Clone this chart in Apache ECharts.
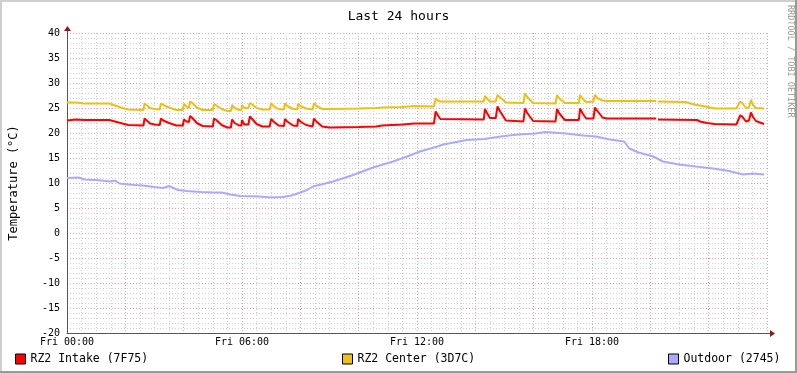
<!DOCTYPE html>
<html>
<head>
<meta charset="utf-8">
<script src="https://cdn.jsdelivr.net/npm/echarts@6/dist/echarts.min.js"></script>
<style>
html,body{margin:0;padding:0;background:#fff;}
#c{width:797px;height:373px;}
</style>
</head>
<body>
<div id="c"></div>
<script>
// ---- data (hours since Fri 00:00, temperature in °C) ----
var xTickLabels = ['Fri 00:00', 'Fri 06:00', 'Fri 12:00', 'Fri 18:00'];
var seriesNames = ['RZ2 Intake (7F75)', 'RZ2 Center (3D7C)', 'Outdoor (2745)'];

var intakeTimes = [0,0.3,0.6,1.45,1.9,2.1,2.62,2.66,2.72,2.85,3.0,3.18,3.22,3.3,3.5,3.75,3.97,4.01,4.1,4.18,4.22,4.3,4.45,4.65,5.0,5.04,5.12,5.3,5.5,5.62,5.66,5.75,5.9,5.98,6.0,6.08,6.22,6.27,6.35,6.5,6.7,6.95,7.0,7.08,7.25,7.44,7.47,7.55,7.75,7.9,7.92,8.0,8.2,8.42,8.47,8.55,8.75,9.0,10.0,10.6,10.8,11.5,11.9,12.58,12.64,12.72,12.8,14.29,14.33,14.4,14.5,14.7,14.76,14.85,15.05,15.65,15.7,15.78,15.98,16.75,16.8,16.88,17.07,17.55,17.59,17.67,17.8,18.05,18.1,18.2,18.36,18.5,20.2,20.23,20.26,21.6,21.7,21.95,22.2,22.95,23.08,23.15,23.28,23.38,23.45,23.52,23.62,23.9];
var intakeValues = [22.5,22.7,22.6,22.6,21.9,21.6,21.5,22.9,22.7,21.9,21.7,21.6,22.9,22.5,22.0,21.5,21.5,22.7,22.3,22.2,23.4,23.0,22.0,21.4,21.3,22.9,22.6,21.6,21.1,21.1,22.7,22.0,21.5,21.5,22.6,21.7,21.7,23.3,22.8,21.8,21.3,21.3,22.8,22.3,21.5,21.4,22.8,22.3,21.5,21.4,22.8,22.3,21.6,21.3,22.9,22.3,21.3,21.1,21.2,21.3,21.5,21.7,21.9,21.9,24.3,23.5,22.8,22.7,24.8,24.0,23.0,23.0,25.3,24.3,22.5,22.3,24.9,24.0,22.4,22.3,24.8,23.9,22.6,22.6,24.9,24.0,22.9,22.9,25.1,24.3,23.1,22.9,22.9,null,22.7,22.6,22.3,22.0,21.8,21.7,23.5,23.3,22.3,22.5,24.1,23.2,22.4,21.8];

var centerTimes = [0,0.3,0.6,1.45,1.9,2.1,2.62,2.66,2.72,2.85,3.0,3.18,3.22,3.3,3.5,3.75,3.97,4.01,4.1,4.18,4.22,4.3,4.45,4.65,5.0,5.04,5.12,5.3,5.5,5.62,5.66,5.75,5.9,5.98,6.0,6.08,6.22,6.27,6.35,6.5,6.7,6.95,7.0,7.08,7.25,7.44,7.47,7.55,7.75,7.9,7.92,8.0,8.2,8.42,8.47,8.55,8.75,9.0,10.0,10.6,10.8,11.5,11.9,12.58,12.64,12.72,12.8,14.29,14.33,14.4,14.5,14.7,14.76,14.85,15.05,15.65,15.7,15.78,15.98,16.75,16.8,16.88,17.07,17.55,17.59,17.67,17.8,18.05,18.1,18.2,18.36,18.5,20.2,20.23,20.26,21.2,21.5,21.9,22.2,22.95,23.08,23.15,23.28,23.38,23.45,23.52,23.62,23.9];
var centerValues = [26.1,26.1,25.9,25.9,25.0,24.7,24.6,25.9,25.6,25.0,24.8,24.7,25.9,25.6,25.1,24.6,24.6,25.8,25.3,25.0,26.3,26.0,25.1,24.6,24.6,25.8,25.5,24.8,24.4,24.4,25.6,25.0,24.6,24.6,25.6,25.0,25.0,26.0,25.7,25.0,24.7,24.7,25.9,25.4,24.8,24.7,25.9,25.4,24.8,24.7,25.9,25.4,24.9,24.7,26.0,25.4,24.8,24.8,24.9,25.0,25.1,25.2,25.4,25.3,26.9,26.5,26.3,26.3,27.4,26.9,26.3,26.3,27.6,27.1,26.1,26.0,27.9,27.2,26.0,25.9,27.6,26.9,26.0,26.0,27.6,26.9,26.2,26.3,27.6,26.9,26.5,26.4,26.4,null,26.3,26.2,25.7,25.3,24.9,24.9,26.3,26.0,25.0,25.1,26.6,25.6,25.0,24.9];

var outdoorTimes = [0,0.4,0.6,1.0,1.5,1.65,1.8,2.3,2.6,3.0,3.3,3.5,3.8,4.1,4.6,5.0,5.3,5.6,5.93,6.6,7.0,7.4,7.7,8.0,8.23,8.43,8.78,9.12,9.81,10.49,11.18,11.66,12.1,12.7,12.9,13.7,14.3,14.88,15.46,16.05,16.4,17.1,17.7,18.14,18.6,19.1,19.28,19.6,20.1,20.43,20.98,21.56,22.15,22.7,23.18,23.52,23.9];
var outdoorValues = [11.0,11.1,10.7,10.6,10.3,10.5,9.9,9.6,9.5,9.2,9.0,9.4,8.6,8.4,8.2,8.1,8.1,7.7,7.4,7.3,7.1,7.2,7.5,8.1,8.6,9.3,9.8,10.3,11.6,13.1,14.3,15.3,16.3,17.3,17.7,18.6,18.8,19.3,19.7,19.9,20.2,19.9,19.5,19.3,18.7,18.3,16.9,16.1,15.3,14.3,13.7,13.3,12.9,12.4,11.7,11.9,11.7];

function pairs(t, v) { return t.map(function (x, i) { return [x, v[i]]; }); }

var colors = ['#FF0000', '#EAC117', '#AAAAFF'];
var FONT = 'DejaVu Sans Mono';

var chart = echarts.init(document.getElementById('c'), null, {renderer: 'canvas'});

function legendAt(left, name) {
  return {
    left: left, top: 353, orient: 'horizontal',
    data: [{name: name, icon: 'rect'}],
    itemWidth: 10, itemHeight: 10, itemGap: 5,
    itemStyle: {borderColor: '#000', borderWidth: 1},
    textStyle: {fontFamily: FONT, fontSize: 11.5, color: '#000', padding: [0, 0, 0, 0]},
    selectedMode: false, padding: 0
  };
}

var option = {
  animation: false,
  backgroundColor: '#ffffff',
  color: colors,
  title: {
    text: 'Last 24 hours', left: 'center', top: 5,
    textStyle: {fontFamily: FONT, fontSize: 13, fontWeight: 'normal', color: '#000'}
  },
  legend: [legendAt(15, seriesNames[0]), legendAt(342, seriesNames[1]), legendAt(668, seriesNames[2])],
  grid: {left: 67, right: 30, top: 33, bottom: 40, containLabel: false, outerBoundsMode: 'none'},
  xAxis: [{
    type: 'value', min: 0, max: 24, interval: 6,
    axisLine: {show: true, onZero: false, lineStyle: {color: '#555', width: 1}},
    axisTick: {show: false},
    axisLabel: {
      fontFamily: FONT, fontSize: 10, color: '#000', margin: 4,
      formatter: function (v) { var i = Math.round(v / 6); return (v < 24 && xTickLabels[i]) ? xTickLabels[i] : ''; }
    },
    splitLine: {show: false}
  }, {
    type: 'value', min: 0, max: 24, interval: 2, position: 'bottom',
    axisLine: {show: false, onZero: false}, axisTick: {show: false}, axisLabel: {show: false},
    splitLine: {show: true, lineStyle: {color: '#E8A0A0', type: [1, 2], width: 1}},
    minorTick: {show: false, splitNumber: 4},
    minorSplitLine: {show: true, lineStyle: {color: '#CFCFCF', type: [1, 2], width: 1}}
  }],
  yAxis: {
    type: 'value', min: -20, max: 40, interval: 5,
    name: 'Temperature (°C)', nameLocation: 'middle', nameGap: 47, nameRotate: 90,
    nameTextStyle: {fontFamily: FONT, fontSize: 12, color: '#000'},
    axisLine: {show: true, onZero: false, lineStyle: {color: '#555', width: 1}},
    axisTick: {show: false},
    axisLabel: {fontFamily: FONT, fontSize: 10, color: '#000', margin: 7},
    splitLine: {show: true, lineStyle: {color: '#E8A0A0', type: [1, 2], width: 1}},
    minorTick: {show: false, splitNumber: 5},
    minorSplitLine: {show: true, lineStyle: {color: '#CFCFCF', type: [1, 2], width: 1}}
  },
  series: [
    {name: seriesNames[0], type: 'line', data: pairs(intakeTimes, intakeValues), showSymbol: false, connectNulls: false, lineStyle: {width: 2, color: colors[0]}, itemStyle: {color: colors[0]}, z: 4},
    {name: seriesNames[1], type: 'line', data: pairs(centerTimes, centerValues), showSymbol: false, connectNulls: false, lineStyle: {width: 2, color: colors[1]}, itemStyle: {color: colors[1]}, z: 3},
    {name: seriesNames[2], type: 'line', data: pairs(outdoorTimes, outdoorValues), showSymbol: false, connectNulls: false, lineStyle: {width: 2, color: colors[2]}, itemStyle: {color: colors[2]}, z: 2}
  ]
};
chart.setOption(option);

// decorations: frame, arrows, watermark text
var origin = chart.convertToPixel({xAxisIndex: 0, yAxisIndex: 0}, [0, -20]);
var topPt = chart.convertToPixel({xAxisIndex: 0, yAxisIndex: 0}, [0, 40]);
var endPt = chart.convertToPixel({xAxisIndex: 0, yAxisIndex: 0}, [24, -20]);
var ax = Math.round(origin[0]) + 0.5, ay = Math.round(origin[1]) + 0.5;
var ty = Math.round(topPt[1]), ex = Math.round(endPt[0]);
var arrowColor = '#8B1A1A';
chart.setOption({
  graphic: [
    {type: 'line', shape: {x1: ax, y1: ty, x2: ax, y2: ty - 4}, style: {stroke: '#555', lineWidth: 1}, z: 10},
    {type: 'line', shape: {x1: ex, y1: ay, x2: ex + 5, y2: ay}, style: {stroke: '#555', lineWidth: 1}, z: 10},
    {type: 'polygon', shape: {points: [[ax - 3.5, ty - 2], [ax + 3.5, ty - 2], [ax, ty - 7]]}, style: {fill: arrowColor}, z: 10},
    {type: 'polygon', shape: {points: [[ex + 3, ay - 3.5], [ex + 3, ay + 3.5], [ex + 8, ay]]}, style: {fill: arrowColor}, z: 10},
    {type: 'text', x: 786, y: 5, rotation: -Math.PI / 2,
      style: {text: 'RRDTOOL / TOBI OETIKER', fontFamily: FONT, fontSize: 8.5, fill: '#999999', textAlign: 'left', textVerticalAlign: 'bottom'}, z: 10},
    {type: 'rect', shape: {x: 0, y: 0, width: 797, height: 2}, style: {fill: '#CFCFCF'}, z: 20},
    {type: 'rect', shape: {x: 0, y: 0, width: 2, height: 373}, style: {fill: '#CFCFCF'}, z: 20},
    {type: 'rect', shape: {x: 795, y: 0, width: 2, height: 373}, style: {fill: '#9A9A9A'}, z: 21},
    {type: 'rect', shape: {x: 0, y: 371, width: 797, height: 2}, style: {fill: '#9A9A9A'}, z: 21}
  ]
});
</script>
</body>
</html>
